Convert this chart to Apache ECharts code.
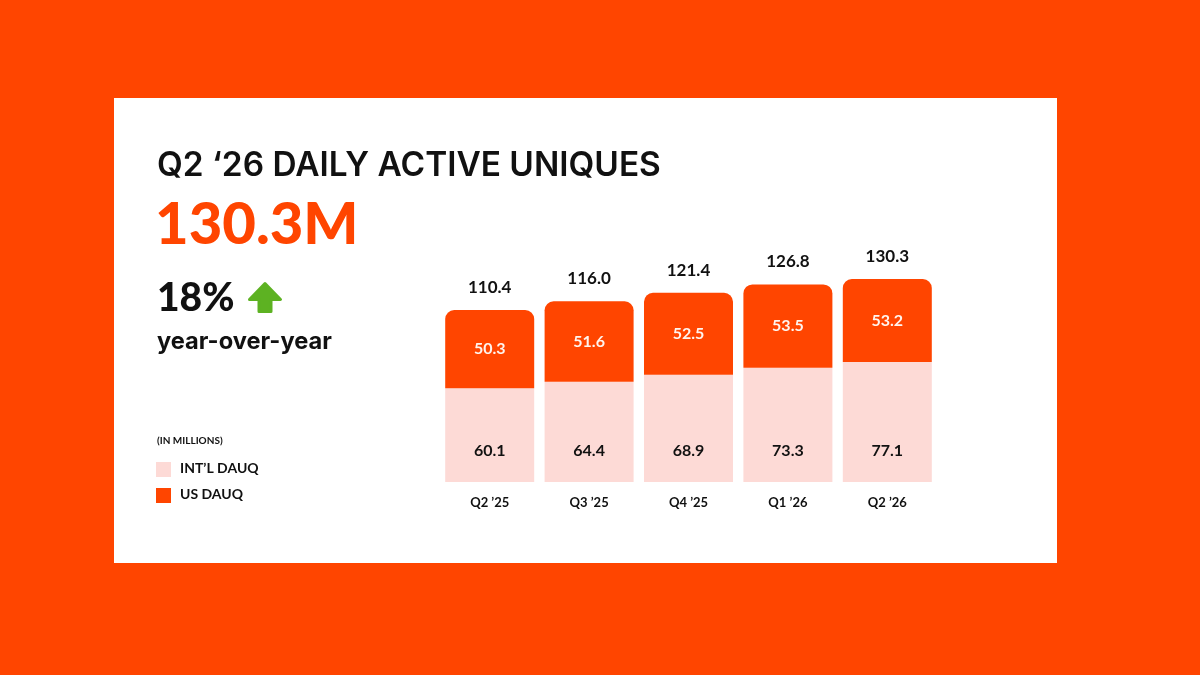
<!DOCTYPE html>
<html>
<head>
<meta charset="utf-8">
<script src="https://cdn.jsdelivr.net/npm/echarts@6/dist/echarts.min.js"></script>
<style>
html,body{margin:0;padding:0;background:#FF4500;}
#chart{width:1200px;height:675px;}
</style>
</head>
<body>
<div id="chart"></div>
<script>
const categories = ["Q2 \u201925", "Q3 \u201925", "Q4 \u201925", "Q1 \u201926", "Q2 \u201926"];
const intlDauq = [60.1, 64.4, 68.9, 73.3, 77.1];
const usDauq = [50.3, 51.6, 52.5, 53.5, 53.2];
const totals = intlDauq.map((v, i) => +(v + usDauq[i]).toFixed(1));

const ORANGE = '#FF4500';
const PINK = '#FDDAD6';
const INK = '#111111';
const FONT = 'Lato, "Noto Sans", sans-serif';
const WIDE = 'Inter, "Open Sans", Lato, sans-serif';

const TITLE = 'Q2 \u201826 DAILY ACTIVE UNIQUES';
const YOY = 'year-over-year';

// fit a font size so the text spans a target width
function fitSize(text, weight, family, targetWidth) {
  const c = document.createElement('canvas').getContext('2d');
  c.font = weight + ' 100px ' + family;
  return 100 * targetWidth / c.measureText(text).width;
}

function draw() {
  const titleSize = Math.min(fitSize(TITLE, '600', WIDE, 504), 34);
  const yoySize = Math.min(fitSize(YOY, 'bold', WIDE, 175), 26);
  const chart = echarts.init(document.getElementById('chart'), null, {renderer: 'canvas'});

  chart.setOption({
    backgroundColor: ORANGE,
    animation: false,
    textStyle: {fontFamily: FONT},
    grid: {left: 440, right: 263, top: 248.3, bottom: 193},
    xAxis: {
      type: 'category',
      data: categories,
      axisLine: {show: false},
      axisTick: {show: false},
      axisLabel: {color: INK, fontSize: 13, fontWeight: 'bold', margin: 14, fontFamily: FONT}
    },
    yAxis: {
      type: 'value', min: 0, max: 150,
      show: false, splitLine: {show: false}
    },
    graphic: [
      {type: 'rect', z: -10, shape: {x: 114, y: 98, width: 943, height: 465}, style: {fill: '#ffffff'}},
      {type: 'text', x: 157, y: 166, style: {text: TITLE, fill: INK, font: '600 ' + titleSize + 'px ' + WIDE, textVerticalAlign: 'middle'}},
      {type: 'text', left: 155, top: 196, style: {text: '130.3M', fill: ORANGE, font: '900 58px ' + FONT}},
      {type: 'text', left: 157, top: 279, style: {text: '18%', fill: INK, font: '900 39px ' + FONT}},
      {type: 'polygon', shape: {points: [[265, 283.5], [280.5, 299.5], [271, 299.5], [271, 311.5], [259, 311.5], [259, 299.5], [249.5, 299.5]]},
        style: {fill: '#5DB222', stroke: '#5DB222', lineWidth: 3, lineJoin: 'round'}},
      {type: 'text', x: 157, y: 342, style: {text: YOY, fill: INK, font: 'bold ' + yoySize + 'px ' + WIDE, textVerticalAlign: 'middle'}},
      {type: 'text', left: 157, top: 436, style: {text: '(IN MILLIONS)', fill: INK, font: 'bold 10px ' + FONT}},
      {type: 'rect', shape: {x: 156, y: 462, width: 15, height: 15}, style: {fill: PINK}},
      {type: 'text', left: 180, top: 461, style: {text: 'INT\u2019L DAUQ', fill: INK, font: 'bold 14px ' + FONT}},
      {type: 'rect', shape: {x: 156, y: 488, width: 15, height: 15}, style: {fill: ORANGE}},
      {type: 'text', left: 180, top: 487, style: {text: 'US DAUQ', fill: INK, font: 'bold 14px ' + FONT}}
    ],
    series: [
      {
        name: 'INT\u2019L DAUQ', type: 'bar', stack: 'dauq', barWidth: 89,
        data: intlDauq,
        itemStyle: {color: PINK},
        label: {show: true, position: 'insideBottom', distance: 23, color: INK, fontSize: 16, fontWeight: 'bold', fontFamily: FONT,
          formatter: p => p.value.toFixed(1)}
      },
      {
        name: 'US DAUQ', type: 'bar', stack: 'dauq', barWidth: 89,
        data: usDauq,
        itemStyle: {color: ORANGE, borderRadius: [9, 9, 0, 0]},
        label: {show: true, position: 'inside', color: '#FFF4EE', fontSize: 16, fontWeight: 'bold', fontFamily: FONT,
          formatter: p => p.value.toFixed(1)}
      },
      {
        name: 'Total', type: 'scatter', symbolSize: 0,
        data: totals,
        itemStyle: {opacity: 1},
        label: {show: true, position: 'top', distance: 14, color: INK, opacity: 1, fontSize: 17, fontWeight: 'bold', fontFamily: FONT,
          formatter: p => p.value.toFixed(1)}
      }
    ]
  });
}

if (document.fonts && document.fonts.load) {
  Promise.all([
    document.fonts.load('600 30px Inter'),
    document.fonts.load('bold 26px Inter'),
    document.fonts.load('bold 16px Lato')
  ]).then(draw, draw);
} else {
  draw();
}
</script>
</body>
</html>
